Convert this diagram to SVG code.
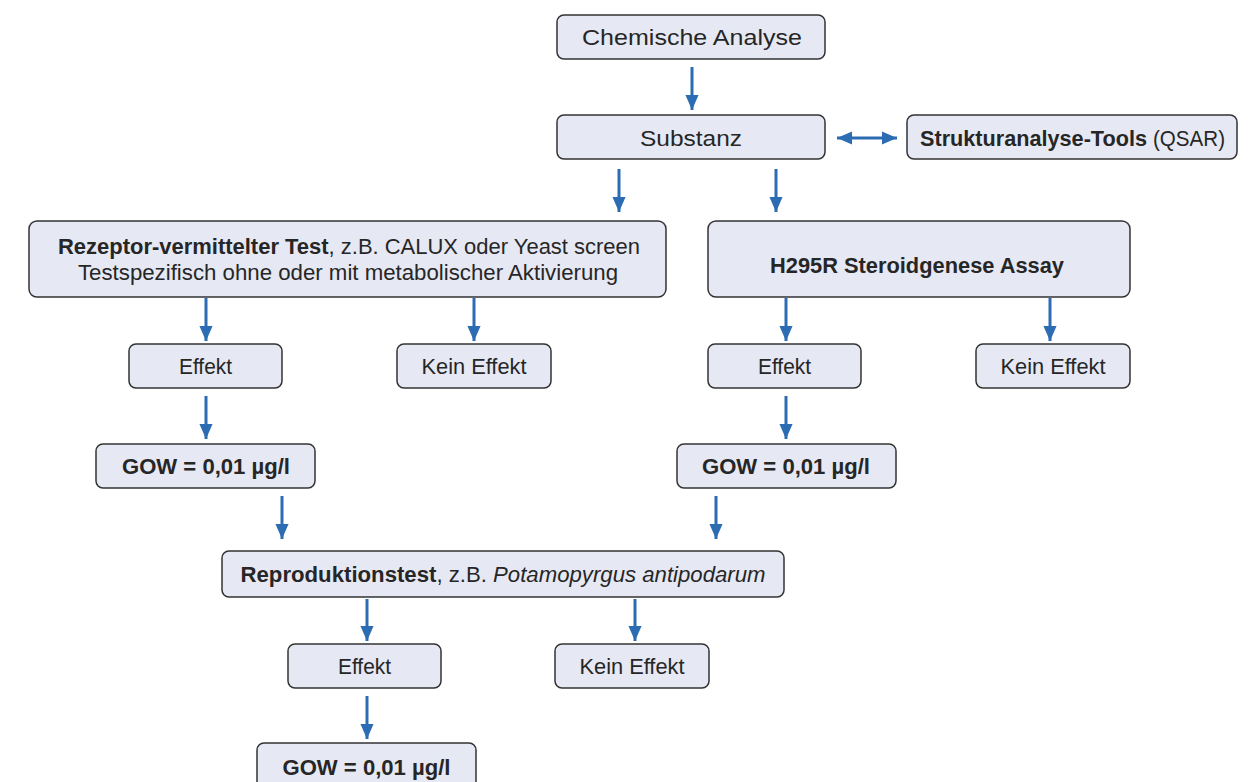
<svg xmlns="http://www.w3.org/2000/svg" width="1253" height="782" viewBox="0 0 1253 782">
  <style>
    .box { fill: #e6e9f4; stroke: #333333; stroke-width: 1.5; }
    .t { font-family: "Liberation Sans", Arial, sans-serif; font-size: 22.5px; fill: #262626; text-anchor: middle; }
    .s { text-anchor: start; }
    .b { font-weight: bold; }
    .i { font-style: italic; }
    .arr { stroke: #2b6cb3; stroke-width: 3; fill: none; marker-end: url(#head); }
  </style>
  <defs>
    <marker id="head" markerUnits="userSpaceOnUse" markerWidth="15" markerHeight="16" refX="16" refY="7" orient="auto" viewBox="0 0 16 14">
      <path d="M0,0 L16,7 L0,14 Z" fill="#2b6cb3"/>
    </marker>
    <marker id="tail" markerUnits="userSpaceOnUse" markerWidth="15" markerHeight="16" refX="0" refY="7" orient="auto" viewBox="0 0 16 14">
      <path d="M16,0 L0,7 L16,14 Z" fill="#2b6cb3"/>
    </marker>
  </defs>

  <g id="connectors">
    <path class="arr" d="M692,67 V110"/>
    <path class="arr" d="M837,138 H897" marker-start="url(#tail)"/>
    <path class="arr" d="M619,169 V212"/>
    <path class="arr" d="M776,169 V212"/>
    <path class="arr" d="M206,298 V341"/>
    <path class="arr" d="M474,298 V341"/>
    <path class="arr" d="M786,298 V341"/>
    <path class="arr" d="M1050,298 V341"/>
    <path class="arr" d="M206,396 V439"/>
    <path class="arr" d="M786,396 V439"/>
    <path class="arr" d="M282,496 V539"/>
    <path class="arr" d="M716,496 V539"/>
    <path class="arr" d="M367,599 V641"/>
    <path class="arr" d="M635,599 V641"/>
    <path class="arr" d="M367,696 V739"/>
  </g>

  <g id="chemische-analyse">
    <rect class="box" x="557" y="15" width="268" height="44" rx="7"/>
    <text class="t" x="692" y="45" textLength="220" lengthAdjust="spacingAndGlyphs">Chemische Analyse</text>
  </g>
  <g id="substanz">
    <rect class="box" x="557" y="115" width="268" height="44" rx="7"/>
    <text class="t" x="691" y="146" textLength="102" lengthAdjust="spacingAndGlyphs">Substanz</text>
  </g>
  <g id="qsar">
    <rect class="box" x="907" y="115" width="330" height="44" rx="7"/>
    <text class="t s b" x="920" y="146" textLength="227" lengthAdjust="spacingAndGlyphs">Strukturanalyse-Tools</text>
    <text class="t s" x="1153" y="146" textLength="72" lengthAdjust="spacingAndGlyphs">(QSAR)</text>
  </g>
  <g id="rezeptor-test">
    <rect class="box" x="29" y="221" width="637" height="76" rx="8"/>
    <text class="t" x="349" y="254" textLength="582" lengthAdjust="spacingAndGlyphs"><tspan class="b">Rezeptor-vermittelter Test</tspan>, z.B. CALUX oder Yeast screen</text>
    <text class="t" x="348" y="280" textLength="540" lengthAdjust="spacingAndGlyphs">Testspezifisch ohne oder mit metabolischer Aktivierung</text>
  </g>
  <g id="h295r">
    <rect class="box" x="708" y="221" width="422" height="76" rx="8"/>
    <text class="t b" x="917" y="273" textLength="294" lengthAdjust="spacingAndGlyphs">H295R Steroidgenese Assay</text>
  </g>
  <g id="effekt-1">
    <rect class="box" x="129" y="344" width="153" height="44" rx="7"/>
    <text class="t" x="205.5" y="374" textLength="53" lengthAdjust="spacingAndGlyphs">Effekt</text>
  </g>
  <g id="kein-effekt-1">
    <rect class="box" x="397" y="344" width="154" height="44" rx="7"/>
    <text class="t" x="474" y="374" textLength="105" lengthAdjust="spacingAndGlyphs">Kein Effekt</text>
  </g>
  <g id="effekt-2">
    <rect class="box" x="708" y="344" width="153" height="44" rx="7"/>
    <text class="t" x="784.5" y="374" textLength="53" lengthAdjust="spacingAndGlyphs">Effekt</text>
  </g>
  <g id="kein-effekt-2">
    <rect class="box" x="976" y="344" width="154" height="44" rx="7"/>
    <text class="t" x="1053" y="374" textLength="105" lengthAdjust="spacingAndGlyphs">Kein Effekt</text>
  </g>
  <g id="gow-1">
    <rect class="box" x="96" y="444" width="219" height="44" rx="7"/>
    <text class="t b" x="206" y="474" textLength="168" lengthAdjust="spacingAndGlyphs">GOW = 0,01 µg/l</text>
  </g>
  <g id="gow-2">
    <rect class="box" x="677" y="444" width="219" height="44" rx="7"/>
    <text class="t b" x="786" y="474" textLength="168" lengthAdjust="spacingAndGlyphs">GOW = 0,01 µg/l</text>
  </g>
  <g id="reproduktionstest">
    <rect class="box" x="222" y="551" width="562" height="46" rx="7"/>
    <text class="t" x="503" y="582" textLength="525" lengthAdjust="spacingAndGlyphs"><tspan class="b">Reproduktionstest</tspan>, z.B. <tspan class="i">Potamopyrgus antipodarum</tspan></text>
  </g>
  <g id="effekt-3">
    <rect class="box" x="288" y="644" width="153" height="44" rx="7"/>
    <text class="t" x="364.5" y="674" textLength="53" lengthAdjust="spacingAndGlyphs">Effekt</text>
  </g>
  <g id="kein-effekt-3">
    <rect class="box" x="555" y="644" width="154" height="44" rx="7"/>
    <text class="t" x="632" y="674" textLength="105" lengthAdjust="spacingAndGlyphs">Kein Effekt</text>
  </g>
  <g id="gow-3">
    <rect class="box" x="257" y="743" width="219" height="60" rx="7"/>
    <text class="t b" x="366.5" y="775" textLength="168" lengthAdjust="spacingAndGlyphs">GOW = 0,01 µg/l</text>
  </g>
</svg>
